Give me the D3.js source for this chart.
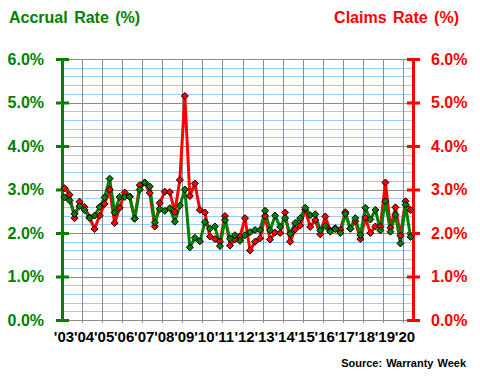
<!DOCTYPE html>
<html>
<head>
<meta charset="utf-8">
<script src="https://cdn.jsdelivr.net/npm/d3@7"></script>
<style>
  body { margin: 0; background: #fff; }
  svg { display: block; font-family: "Liberation Sans", Arial, sans-serif; }
</style>
</head>
<body>
<div id="chart"></div>
<script>
// Quarterly rates, 2003 Q1 .. 2020 Q2
const years = ['03', '04', '05', '06', '07', '08', '09', '10', '11', '12', '13', '14', '15', '16', '17', '18', '19', '20'];
const accrual = [
  2.82, 2.75, 2.44, 2.62, 2.53, 2.34, 2.40, 2.60, 2.82, 3.25, 2.47, 2.83, 2.83, 2.83, 2.33, 3.00,
  3.16, 3.07, 2.24, 2.55, 2.51, 2.57, 2.26, 2.63, 3.00, 1.67, 1.89, 1.81, 2.25, 2.10, 2.15, 1.70,
  2.30, 1.87, 1.95, 1.82, 1.95, 2.02, 2.07, 2.07, 2.51, 2.06, 2.40, 2.14, 2.34, 1.98, 2.23, 2.34,
  2.58, 2.41, 2.43, 2.06, 2.16, 2.03, 2.09, 2.00, 2.44, 2.10, 2.34, 1.95, 2.58, 2.31, 2.53, 2.06,
  2.73, 2.03, 2.42, 1.76, 2.65, 1.91
];
const claims = [
  3.03, 2.88, 2.34, 2.72, 2.60, 2.36, 2.09, 2.40, 2.67, 3.00, 2.23, 2.58, 2.93, 2.84, 2.33, 3.10,
  3.16, 2.92, 2.15, 2.69, 2.95, 2.94, 2.48, 3.22, 5.15, 2.85, 3.14, 2.53, 2.47, 1.92, 1.86, 1.80,
  2.39, 1.71, 1.85, 1.92, 2.34, 1.60, 1.80, 1.88, 2.39, 1.85, 2.01, 2.00, 2.47, 1.80, 2.08, 2.17,
  2.54, 2.14, 2.30, 1.97, 2.38, 2.06, 2.11, 2.07, 2.48, 2.10, 2.27, 1.86, 2.35, 2.00, 2.15, 2.15,
  3.16, 2.12, 2.59, 1.94, 2.73, 2.53
];
const yTicks = [0, 1, 2, 3, 4, 5, 6];

const GREEN = '#008000';
const RED = '#ff0000';

const width = 480, height = 380;
const plot = { left: 62, right: 413, top: 59, bottom: 320 };

const quarters = [];
years.forEach(yr => ['Q1', 'Q2', 'Q3', 'Q4'].forEach(q => quarters.push(yr + q)));
const cats = quarters.slice(0, accrual.length);

const svg = d3.select('#chart')
  .append('svg')
  .attr('width', width)
  .attr('height', height);

const x = d3.scaleBand().domain(cats).range([plot.left, plot.right]);
const y = d3.scaleLinear().domain([0, 6]).range([plot.bottom, plot.top]);
const cx = (d, i) => x(cats[i]) + x.bandwidth() / 2;

// light blue minor grid
svg.append('g')
  .selectAll('line')
  .data(y.ticks(30))
  .join('line')
  .attr('x1', plot.left).attr('x2', plot.right)
  .attr('y1', d => Math.round(y(d)) + 0.5).attr('y2', d => Math.round(y(d)) + 0.5)
  .attr('stroke', '#99ccff')
  .attr('stroke-width', 1);

// gray major grid
svg.append('g')
  .selectAll('line')
  .data(yTicks)
  .join('line')
  .attr('x1', plot.left).attr('x2', plot.right)
  .attr('y1', d => Math.round(y(d)) + 0.5).attr('y2', d => Math.round(y(d)) + 0.5)
  .attr('stroke', '#8c8c8c')
  .attr('stroke-width', 1);

// vertical year lines
svg.append('g')
  .selectAll('line')
  .data(years.slice(1))
  .join('line')
  .attr('x1', d => Math.round(x(d + 'Q1')) + 0.5)
  .attr('x2', d => Math.round(x(d + 'Q1')) + 0.5)
  .attr('y1', plot.top).attr('y2', plot.bottom + 3)
  .attr('stroke', '#8c8c8c')
  .attr('stroke-width', 1);

// x labels
svg.append('g')
  .selectAll('text')
  .data(years)
  .join('text')
  .attr('x', d => x(d + 'Q1') + 2)
  .attr('y', 342)
  .attr('text-anchor', 'middle')
  .attr('font-size', '15px')
  .attr('font-weight', 'bold')
  .attr('fill', '#000')
  .text(d => "'" + d);

// axes
const fmt = d => d3.format('.1f')(d) + '%';

const leftAxis = svg.append('g')
  .attr('transform', `translate(${plot.left},0)`)
  .call(d3.axisLeft(y).tickValues(yTicks).tickSize(6).tickPadding(12).tickFormat(fmt));
leftAxis.select('.domain').attr('stroke', GREEN).attr('stroke-width', 3);
leftAxis.selectAll('.tick line').attr('stroke', GREEN).attr('stroke-width', 3).attr('x2', -6).attr('x1', 7);
leftAxis.selectAll('.tick text')
  .attr('fill', GREEN).attr('font-size', '16px').attr('font-weight', 'bold')
  .attr('font-family', '"Liberation Sans", Arial, sans-serif');

const rightAxis = svg.append('g')
  .attr('transform', `translate(${plot.right},0)`)
  .call(d3.axisRight(y).tickValues(yTicks).tickSize(6).tickPadding(12).tickFormat(fmt));
rightAxis.select('.domain').attr('stroke', RED).attr('stroke-width', 3);
rightAxis.selectAll('.tick line').attr('stroke', RED).attr('stroke-width', 3).attr('x2', 7).attr('x1', -6);
rightAxis.selectAll('.tick text')
  .attr('fill', RED).attr('font-size', '16px').attr('font-weight', 'bold')
  .attr('font-family', '"Liberation Sans", Arial, sans-serif');

// series
const line = d3.line().x(cx).y(d => y(d));
const diamond = 'M0,-3.5L3.5,0L0,3.5L-3.5,0Z';

[{ values: claims, color: RED }, { values: accrual, color: GREEN }].forEach(s => {
  svg.append('path')
    .datum(s.values)
    .attr('d', line)
    .attr('fill', 'none')
    .attr('stroke', s.color)
    .attr('stroke-width', 3)
    .attr('stroke-linejoin', 'round');
});

[{ values: claims, color: RED }, { values: accrual, color: GREEN }].forEach(s => {
  svg.append('g')
    .selectAll('path')
    .data(s.values)
    .join('path')
    .attr('transform', (d, i) => `translate(${cx(d, i)},${y(d)})`)
    .attr('d', diamond)
    .attr('fill', s.color)
    .attr('stroke', '#000')
    .attr('stroke-width', 1);
});

// titles
svg.append('text')
  .attr('x', 9).attr('y', 23)
  .attr('font-size', '16px').attr('font-weight', 'bold')
  .attr('fill', GREEN)
  .attr('word-spacing', '2px')
  .text('Accrual Rate (%)');

svg.append('text')
  .attr('x', 459).attr('y', 23)
  .attr('text-anchor', 'end')
  .attr('font-size', '16px').attr('font-weight', 'bold')
  .attr('fill', RED)
  .attr('word-spacing', '2px')
  .text('Claims Rate (%)');

svg.append('text')
  .attr('x', 466).attr('y', 367)
  .attr('text-anchor', 'end')
  .attr('font-size', '11px').attr('font-weight', 'bold')
  .attr('fill', '#000')
  .attr('word-spacing', '1px')
  .text('Source: Warranty Week');
</script>
</body>
</html>
